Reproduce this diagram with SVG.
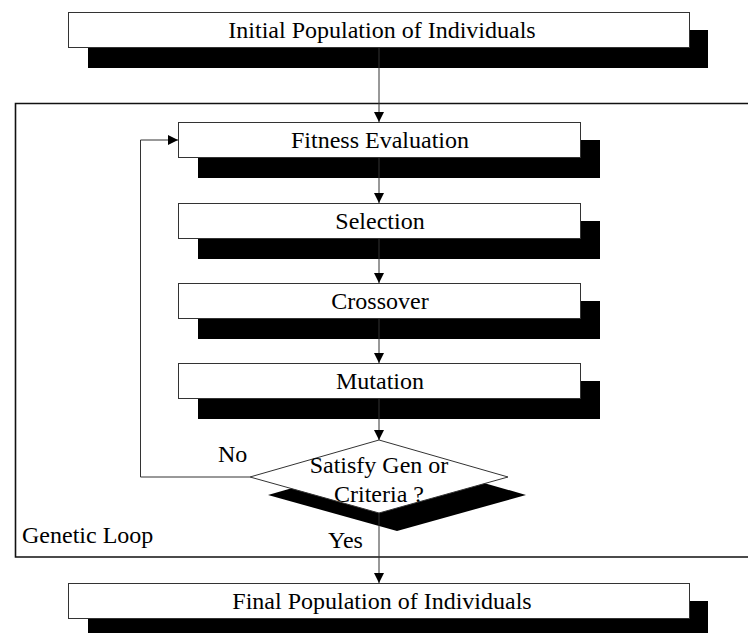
<svg xmlns="http://www.w3.org/2000/svg" width="748" height="633" viewBox="0 0 748 633">
  <defs>
    <marker id="arrow" viewBox="0 0 10 10" refX="10" refY="5" markerWidth="10" markerHeight="10" markerUnits="userSpaceOnUse" orient="auto">
      <path d="M0,0 L10,5 L0,10 Z" fill="#000"/>
    </marker>
    <style>
      .box { fill: #fff; stroke: #333; stroke-width: 1; }
      .shadow { fill: #000; }
      .label { font-family: "Liberation Serif", "Times New Roman", "DejaVu Serif", serif; font-size: 24px; fill: #000; text-anchor: middle; }
      .note { font-family: "Liberation Serif", "Times New Roman", "DejaVu Serif", serif; font-size: 24px; fill: #000; }
      .conn { fill: none; stroke: #333; stroke-width: 1; }
    </style>
  </defs>
  <rect width="748" height="633" fill="#fff"/>

  <!-- Genetic loop frame (open on the right) -->
  <g id="genetic-loop">
    <path d="M752,103.5 H15.5 V557 H752" fill="none" stroke="#111" stroke-width="1.6"/>
    <text class="note" x="22" y="543">Genetic Loop</text>
  </g>

  <g id="initial-population">
    <rect class="shadow" x="88" y="30" width="620" height="38"/>
    <rect class="box" x="68.5" y="12.5" width="621" height="35"/>
    <text class="label" x="382" y="38">Initial Population of Individuals</text>
  </g>

  <g id="fitness-evaluation">
    <rect class="shadow" x="198" y="140" width="402" height="38"/>
    <rect class="box" x="178.5" y="122.5" width="402" height="35"/>
    <text class="label" x="380" y="148">Fitness Evaluation</text>
  </g>

  <g id="selection">
    <rect class="shadow" x="198" y="221" width="402" height="38"/>
    <rect class="box" x="178.5" y="203.5" width="402" height="35"/>
    <text class="label" x="380" y="229">Selection</text>
  </g>

  <g id="crossover">
    <rect class="shadow" x="198" y="301" width="402" height="38"/>
    <rect class="box" x="178.5" y="283.5" width="402" height="35"/>
    <text class="label" x="380" y="309">Crossover</text>
  </g>

  <g id="mutation">
    <rect class="shadow" x="198" y="381" width="402" height="38"/>
    <rect class="box" x="178.5" y="363.5" width="402" height="35"/>
    <text class="label" x="380" y="389">Mutation</text>
  </g>

  <g id="termination-check">
    <polygon class="shadow" points="397,458 526,495 397,531 268,495"/>
    <polygon class="box" points="379,440 508,477 379,513 250,477"/>
    <text class="label" x="379" y="473">Satisfy Gen or</text>
    <text class="label" x="379" y="502">Criteria ?</text>
  </g>

  <g id="final-population">
    <rect class="shadow" x="88" y="601" width="620" height="32"/>
    <rect class="box" x="68.5" y="583.5" width="621" height="35"/>
    <text class="label" x="382" y="609">Final Population of Individuals</text>
  </g>

  <g id="connectors">
    <line class="conn" x1="379" y1="48" x2="379" y2="122" marker-end="url(#arrow)"/>
    <line class="conn" x1="379" y1="158" x2="379" y2="203" marker-end="url(#arrow)"/>
    <line class="conn" x1="379" y1="239" x2="379" y2="283" marker-end="url(#arrow)"/>
    <line class="conn" x1="379" y1="319" x2="379" y2="363" marker-end="url(#arrow)"/>
    <line class="conn" x1="379" y1="399" x2="379" y2="440" marker-end="url(#arrow)"/>
    <line class="conn" x1="379" y1="513" x2="379" y2="583" marker-end="url(#arrow)"/>
    <polyline class="conn" points="250,477 140.5,477 140.5,140 178,140" marker-end="url(#arrow)"/>
    <text class="note" x="218" y="462">No</text>
    <text class="note" x="328" y="548">Yes</text>
  </g>
</svg>
